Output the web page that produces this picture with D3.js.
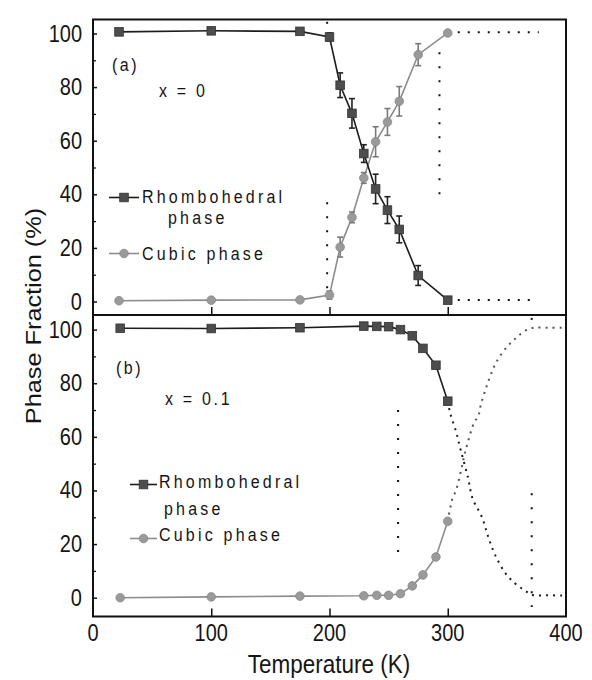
<!DOCTYPE html>
<html>
<head>
<meta charset="utf-8">
<script src="https://cdn.jsdelivr.net/npm/d3@7"></script>
<style>
  html, body { margin: 0; padding: 0; background: #fff; }
  svg { display: block; }
  text { font-family: "Liberation Sans", Arial, Helvetica, sans-serif; fill: #151515; }
</style>
</head>
<body>
<svg id="chart" width="592" height="680"></svg>
<script>
// ---------------- data ----------------
// Panel (a): x = 0
const tempsA    = [22, 100, 175, 200, 209, 219, 229, 239, 249, 259, 275, 300];
const rhomboA   = [100.6, 101, 100.8, 98.7, 80.7, 70.2, 55.2, 42, 34.1, 26.9, 9.7, 0.5];
const rhomboErrA= [0, 0, 0, 1.5, 4.6, 5.5, 3.3, 5.5, 5, 5, 3.7, 0];
const cubicA    = [0.3, 0.5, 0.6, 2.4, 20.3, 31.4, 46.1, 59.6, 67, 74.7, 92.1, 100.2];
const cubicErrA = [0, 0, 0, 1.5, 3.7, 2, 2, 5.6, 5, 5.5, 4.1, 0];

// Panel (b): x = 0.1
const tempsB    = [23, 100, 175, 229, 240, 250, 260, 270, 279, 290, 300];
const rhomboB   = [100.5, 100.4, 100.7, 101.3, 101.2, 101.1, 100, 97.7, 93, 86.7, 73.3];
const cubicB    = [0, 0.3, 0.6, 0.7, 0.9, 0.9, 1.5, 4.4, 8.5, 15.2, 28.5];

// Panel (b) dotted extrapolated curves
const fitTempsRB = [300, 302, 307, 311, 317, 321, 329, 334, 340, 349, 357, 365, 372, 385, 398];
const fitRhomboB = [73.3, 69, 62, 55, 45, 37, 30, 23, 16, 9, 5.3, 2.7, 1, 0.9, 0.8];
const fitTempsCB = [300, 304, 307, 311, 314, 317, 322, 326, 328, 333, 339, 344, 351, 358, 366, 373, 386, 398];
const fitCubicB  = [28.5, 37, 40, 47, 53, 58, 65, 68, 72, 79, 86, 90, 94, 97, 99.7, 100.7, 100.7, 100.7];

// dotted guide lines: [t1, v1, t2, v2]
const guidesA = [[198, 37, 198, 4], [293, 93, 293, 40], [300, 100.5, 377, 100.5], [300, 0.6, 373, 0.6]];
const guidesB = [[258, 70, 258, 17], [371, 39, 371, -3.5]];
const guideDotsA = [[198, 104]];
const guideDotsB = [[371, 104]];

const xTicks = [0, 100, 200, 300, 400];
const yTicks = [0, 20, 40, 60, 80, 100];
const yMinor = [10, 30, 50, 70, 90];

const seriesNames = ["Rhombohedral", "phase", "Cubic phase"];
const panelLabels = ["(a)", "(b)"];
const compLabels  = ["x = 0", "x = 0.1"];
const xTitle = "Temperature (K)";
const yTitle = "Phase Fraction (%)";

// ---------------- layout ----------------
const svg = d3.select("#chart");
const L = 93, R = 566;
const topA = 19.5, midY = 315, botB = 616.5;

const x  = d3.scaleLinear().domain([0, 400]).range([L, R]);
const yA = d3.scaleLinear().domain([0, 100]).range([301.5, 33.5]);
const yB = d3.scaleLinear().domain([0, 100]).range([597.7, 329.6]);

const RHC = "#4d4d4d", RHL = "#1c1c1c";
const CUC = "#9a9a9a", CUL = "#8c8c8c";
const SY = 1.17;

function txt(parent, px, py, s, o = {}) {
  const size = o.size || 16, anchor = o.anchor || "start", ls = o.ls || 0;
  let tr = `translate(${px},${py})`;
  if (o.rotate) tr += ` rotate(${o.rotate})`;
  tr += ` scale(${o.sx || 1},${o.sy || SY})`;
  const g = parent.append("g").attr("transform", tr);
  g.append("text").attr("text-anchor", anchor).attr("font-size", size)
    .style("letter-spacing", ls + "px").text(s);
  return g;
}

function panel(y, top, bottom, temps, rh, rhErr, cu, cuErr, opts) {
  const g = svg.append("g");
  // y ticks (inward)
  const yAxis = d3.axisRight(y).tickValues(yTicks).tickSize(4).tickFormat("");
  g.append("g").attr("transform", `translate(${L},0)`).call(yAxis)
    .call(s => s.select(".domain").remove())
    .call(s => s.selectAll("line").attr("stroke", "#111").attr("stroke-width", 1.5));
  const yAxisMinor = d3.axisRight(y).tickValues(yMinor).tickSize(3).tickFormat("");
  g.append("g").attr("transform", `translate(${L},0)`).call(yAxisMinor)
    .call(s => s.select(".domain").remove())
    .call(s => s.selectAll("line").attr("stroke", "#111").attr("stroke-width", 1.3));
  // y tick labels
  yTicks.forEach(v => txt(g, 82, y(v) + 8, String(v), {size: 20, anchor: "end"}));
  // x ticks (inward, upward)
  const xAxis = d3.axisTop(x).tickValues([100, 200, 300]).tickSize(8).tickFormat("");
  g.append("g").attr("transform", `translate(0,${bottom})`).call(xAxis)
    .call(s => s.select(".domain").remove())
    .call(s => s.selectAll("line").attr("stroke", "#111").attr("stroke-width", 1.5));

  // guides
  opts.guides.forEach(d => {
    const horiz = d[0] !== d[2];
    g.append("line")
      .attr("x1", x(d[0])).attr("y1", y(d[1])).attr("x2", x(d[2])).attr("y2", y(d[3]))
      .attr("stroke", "#111").attr("stroke-width", 2)
      .attr("stroke-dasharray", horiz ? "2,8" : "2,12");
  });
  opts.guideDots.forEach(d => {
    g.append("rect").attr("x", x(d[0]) - 1).attr("y", y(d[1]) - 1)
      .attr("width", 2).attr("height", 2).attr("fill", "#111");
  });
  if (opts.fits) {
    opts.fits.forEach(f => {
      const line = d3.line().x((d, i) => x(f.t[i])).y(d => y(d)).curve(d3.curveCatmullRom);
      g.append("path").attr("d", line(f.v)).attr("fill", "none")
        .attr("stroke", f.c).attr("stroke-width", 2).attr("stroke-dasharray", "2,5");
    });
  }

  // series lines
  const ln = d3.line().x((d, i) => x(temps[i])).y(d => y(d));
  g.append("path").attr("d", ln(cu)).attr("fill", "none").attr("stroke", CUL).attr("stroke-width", 1.6);
  g.append("path").attr("d", ln(rh)).attr("fill", "none").attr("stroke", RHL).attr("stroke-width", 1.6);

  // error bars
  function errs(vals, errsArr, col) {
    vals.forEach((v, i) => {
      const e = errsArr ? errsArr[i] : 0;
      if (!e) return;
      const cx = x(temps[i]);
      g.append("line").attr("x1", cx).attr("x2", cx).attr("y1", y(v - e)).attr("y2", y(v + e))
        .attr("stroke", col).attr("stroke-width", 1.6);
      [v - e, v + e].forEach(w => g.append("line").attr("x1", cx - 3).attr("x2", cx + 3)
        .attr("y1", y(w)).attr("y2", y(w)).attr("stroke", col).attr("stroke-width", 1.6));
    });
  }
  errs(cu, cuErr, "#7a7a7a");
  errs(rh, rhErr, "#222");

  // markers
  g.selectAll(null).data(cu).enter().append("circle")
    .attr("cx", (d, i) => x(temps[i])).attr("cy", d => y(d)).attr("r", 4.3)
    .attr("fill", CUC).attr("stroke", "#888").attr("stroke-width", 0.8);
  g.selectAll(null).data(rh).enter().append("rect")
    .attr("x", (d, i) => x(temps[i]) - 4.3).attr("y", d => y(d) - 4.3)
    .attr("width", 8.6).attr("height", 8.6)
    .attr("fill", RHC).attr("stroke", "#333").attr("stroke-width", 0.8);

  // labels
  txt(g, opts.lab[0], opts.lab[1], opts.labText, {size: 16, ls: 2.5});
  txt(g, opts.comp[0], opts.comp[1], opts.compText, {size: 16, ls: 2.7});

  // legend
  const lg = opts.legend;
  g.append("line").attr("x1", lg.x1).attr("x2", lg.x2).attr("y1", lg.yr).attr("y2", lg.yr)
    .attr("stroke", RHL).attr("stroke-width", 1.6);
  g.append("rect").attr("x", (lg.x1 + lg.x2) / 2 - 4.3).attr("y", lg.yr - 4.3)
    .attr("width", 8.6).attr("height", 8.6).attr("fill", RHC).attr("stroke", "#333").attr("stroke-width", 0.8);
  g.append("line").attr("x1", lg.x1).attr("x2", lg.x2).attr("y1", lg.yc).attr("y2", lg.yc)
    .attr("stroke", CUL).attr("stroke-width", 1.6);
  g.append("circle").attr("cx", (lg.x1 + lg.x2) / 2).attr("cy", lg.yc).attr("r", 4.3)
    .attr("fill", CUC).attr("stroke", "#888").attr("stroke-width", 0.8);
  txt(g, lg.tx, lg.t1, seriesNames[0], {size: 16, ls: 3.2});
  txt(g, lg.px, lg.t2, seriesNames[1], {size: 16, ls: 3.2});
  txt(g, lg.tx, lg.t3, seriesNames[2], {size: 16, ls: 3.2});
}

panel(yA, topA, midY, tempsA, rhomboA, rhomboErrA, cubicA, cubicErrA, {
  guides: guidesA, guideDots: guideDotsA,
  lab: [112, 71], labText: panelLabels[0],
  comp: [159, 97], compText: compLabels[0],
  legend: {x1: 109, x2: 139, yr: 197.5, yc: 253.5, tx: 142, px: 168, t1: 203, t2: 224, t3: 259.5}
});
panel(yB, midY, botB, tempsB, rhomboB, null, cubicB, null, {
  guides: guidesB, guideDots: guideDotsB,
  fits: [{t: fitTempsRB, v: fitRhomboB, c: "#1a1a1a"}, {t: fitTempsCB, v: fitCubicB, c: "#555"}],
  lab: [116, 374], labText: panelLabels[1],
  comp: [165, 405], compText: compLabels[1],
  legend: {x1: 130, x2: 157, yr: 484.5, yc: 538.5, tx: 159, px: 164, t1: 488, t2: 515, t3: 541}
});

// frame
svg.append("rect").attr("x", L).attr("y", topA).attr("width", R - L).attr("height", botB - topA)
  .attr("fill", "none").attr("stroke", "#111").attr("stroke-width", 2);
svg.append("line").attr("x1", L).attr("x2", R).attr("y1", midY).attr("y2", midY)
  .attr("stroke", "#111").attr("stroke-width", 2);

// x tick labels
xTicks.forEach(t => txt(svg, x(t), 641, String(t), {size: 20, anchor: "middle"}));
// axis titles
txt(svg, 329, 673, xTitle, {size: 22.5, anchor: "middle", sy: 1.12});
txt(svg, 41, 316, yTitle, {size: 22, anchor: "middle", rotate: -90, sx: 1.15, sy: 1});
</script>
</body>
</html>
